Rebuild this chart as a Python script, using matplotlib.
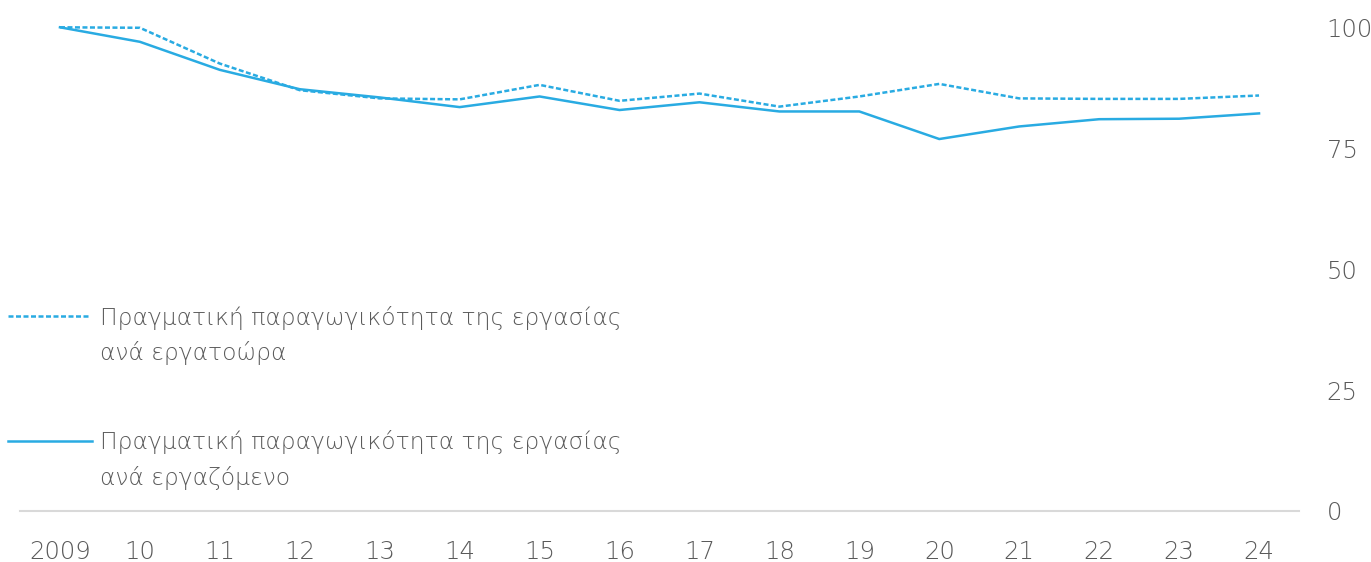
import matplotlib
matplotlib.use("Agg")
import matplotlib.pyplot as plt
import numpy as np

# values (index, 2009 = 100)
years = ["2009", "10", "11", "12", "13", "14", "15", "16",
         "17", "18", "19", "20", "21", "22", "23", "24"]
per_hour = [100, 99.9, 92.5, 87.0, 85.3, 85.1, 88.1, 84.8,
            86.3, 83.6, 85.7, 88.3, 85.3, 85.2, 85.2, 85.9]
per_employee = [100, 97.0, 91.2, 87.2, 85.5, 83.5, 85.7, 82.9,
                84.5, 82.6, 82.6, 76.9, 79.5, 81.0, 81.1, 82.2]
yticks = [0, 25, 50, 75, 100]

label_hour = ["Πραγματική παραγωγικότητα της εργασίας", "ανά εργατοώρα"]
label_emp = ["Πραγματική παραγωγικότητα της εργασίας", "ανά εργαζόμενο"]

blue = "#29abe2"
grey = "#5a5a5a"
plt.rcParams["lines.scale_dashes"] = False
plt.rcParams["font.family"] = ["DejaVu Sans"]

W, H = 1371, 562
fig = plt.figure(figsize=(W / 100, H / 100), dpi=100)
ax = fig.add_axes([20 / W, 51 / H, 1279 / W, 483.7 / H])

x = np.arange(len(years))
ax.plot(x, per_hour, color=blue, lw=1.8, ls=(0, (3.6, 1.8)), clip_on=False)
ax.plot(x, per_employee, color=blue, lw=1.8, clip_on=False)

ax.set_xlim(-0.5, len(years) - 0.5)
ax.set_ylim(0, 100)
ax.set_xticks(x)
ax.set_xticklabels(years)
ax.set_yticks(yticks)
ax.yaxis.tick_right()
ax.tick_params(axis="both", length=0, labelsize=17.5, labelcolor=grey)
ax.tick_params(axis="x", pad=21)
ax.tick_params(axis="y", pad=20)
for lab in ax.get_yticklabels():
    lab.set_fontweight("light")
for lab in ax.get_xticklabels():
    lab.set_fontweight("light")

for side in ["top", "left", "right"]:
    ax.spines[side].set_visible(False)
ax.spines["bottom"].set_color("#d9d9d9")
ax.spines["bottom"].set_linewidth(1.5)

# legend, drawn by hand so the sample sits on the first text line
ax.plot([-0.0094, 0.0547], [0.4038, 0.4038], transform=ax.transAxes,
        color=blue, lw=1.8, ls=(0, (3.6, 1.8)), clip_on=False)
ax.plot([-0.0094, 0.0563], [0.1453, 0.1453], transform=ax.transAxes,
        color=blue, lw=1.8, clip_on=False)
for lines, ys in [(label_hour, [0.3846, 0.3122]), (label_emp, [0.1282, 0.0538])]:
    for txt, yy in zip(lines, ys):
        ax.text(0.0626, yy, txt, transform=ax.transAxes, fontsize=16.8,
                fontweight="light", color=grey, va="baseline", ha="left")

fig.savefig("out.png", dpi=100)
